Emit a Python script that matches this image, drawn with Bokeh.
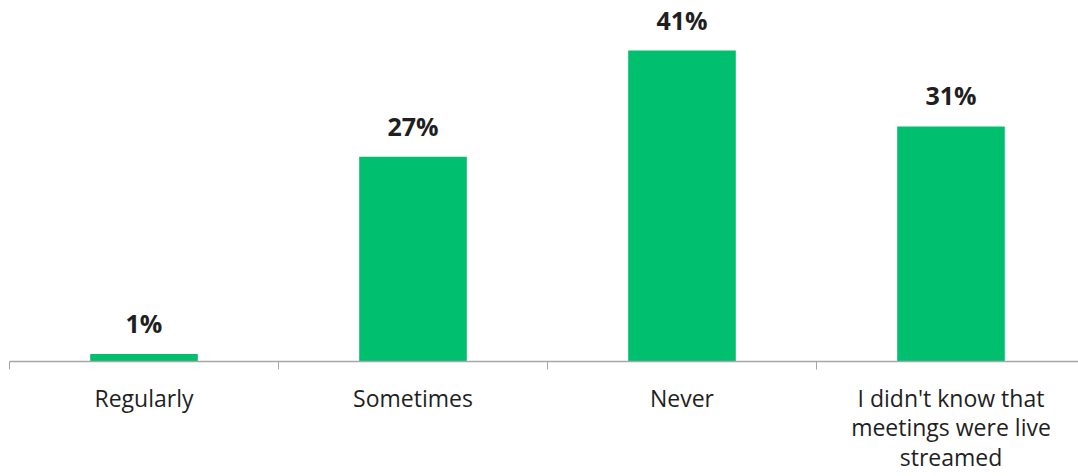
from bokeh.plotting import figure
from bokeh.models import ColumnDataSource, Range1d, FixedTicker, LabelSet
from bokeh.core.properties import value
from bokeh.embed import file_html
from bokeh.resources import INLINE

categories = ["Regularly", "Sometimes", "Never", "I didn't know that\nmeetings were live\nstreamed"]
values = [1, 27, 41, 31]
value_labels = ["1%", "27%", "41%", "31%"]

xs = list(range(len(categories)))
src = ColumnDataSource(dict(x=xs, top=values, lab=value_labels))

p = figure(width=1078, height=476, output_backend="svg", toolbar_location=None,
           x_range=Range1d(-0.5, len(categories) - 0.526), y_range=Range1d(0, 47.6),
           min_border_left=9, min_border_right=0, min_border_top=0, min_border_bottom=114)
p.outline_line_color = None
p.xgrid.visible = False
p.ygrid.visible = False
p.yaxis.visible = False

p.vbar(x="x", top="top", width=0.4, bottom=0, source=src, color="#00BF6F", line_color=None)

labels = LabelSet(x="x", y="top", text="lab", source=src, text_align="center",
                  text_baseline="alphabetic", y_offset=21, text_font=value("Open Sans"),
                  text_font_style="bold", text_font_size="25px", text_color="#1F1F1F")
p.add_layout(labels)

ax = p.xaxis[0]
ax.ticker = FixedTicker(ticks=xs, minor_ticks=[i - 0.5 for i in range(len(categories) + 1)])
ax.major_label_overrides = {i: c for i, c in enumerate(categories)}
ax.major_tick_out = 0
ax.major_tick_in = 0
ax.minor_tick_out = 8
ax.minor_tick_in = 0
ax.minor_tick_line_color = "#A6A6A6"
ax.axis_line_color = "#A6A6A6"
ax.axis_line_width = 1.5
ax.major_label_text_font = "Open Sans"
ax.major_label_text_font_size = "23px"
ax.major_label_text_color = "#1F1F1F"
ax.major_label_standoff = 12
ax.major_label_text_line_height = 0.93
ax.major_label_orientation = "horizontal"

open("out.html", "w").write(file_html(p, INLINE))
